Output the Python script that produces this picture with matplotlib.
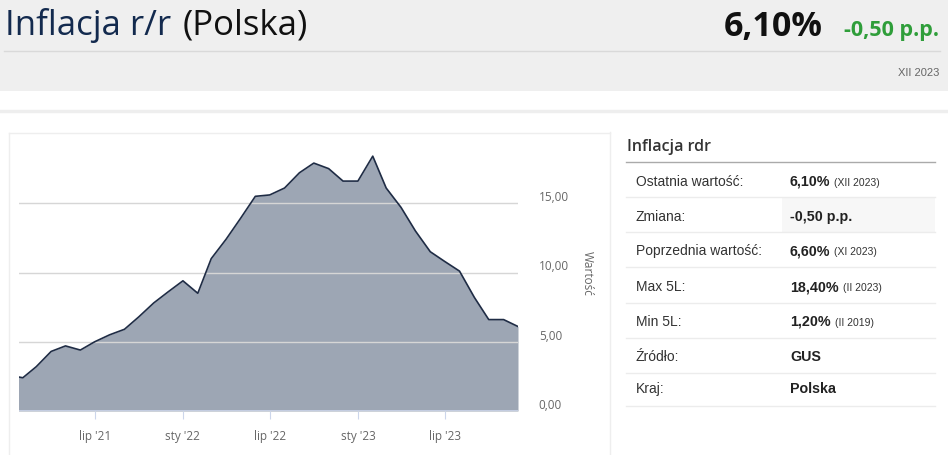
import datetime as dt
import matplotlib
matplotlib.use("Agg")
import matplotlib.pyplot as plt
import matplotlib.dates as mdates
from matplotlib.patches import Rectangle
from matplotlib.lines import Line2D

# monthly CPI y/y, Poland, Jan 2021 - Dec 2023
months = [dt.date(2021 + i // 12, i % 12 + 1, 1) for i in range(36)]
values = [2.6, 2.4, 3.2, 4.3, 4.7, 4.4, 5.0, 5.5, 5.9, 6.8, 7.8, 8.6,
          9.4, 8.5, 11.0, 12.4, 13.9, 15.5, 15.6, 16.1, 17.2, 17.9, 17.5, 16.6,
          16.6, 18.4, 16.1, 14.7, 13.0, 11.5, 10.8, 10.1, 8.2, 6.6, 6.6, 6.1]

tick_dates = [dt.date(2021, 7, 1), dt.date(2022, 1, 1), dt.date(2022, 7, 1),
              dt.date(2023, 1, 1), dt.date(2023, 7, 1)]
tick_labels = ["lip '21", "sty '22", "lip '22", "sty '23", "lip '23"]
y_ticks = [0, 5, 10, 15]

table_labels = ["Ostatnia wartość:", "Zmiana:", "Poprzednia wartość:", "Max 5L:",
                "Min 5L:", "Źródło:", "Kraj:"]
table_values = ["6,10%", "-0,50 p.p.", "6,60%", "18,40%", "1,20%", "GUS", "Polska"]
table_notes = ["(XII 2023)", "", "(XI 2023)", "(II 2023)", "(II 2019)", "", ""]

W, H = 948, 456
fig = plt.figure(figsize=(W / 100, H / 100), dpi=100)
fig.patch.set_facecolor("white")


def fx(x):
    return x / W


def fy(y):
    return 1 - y / H


def hline(x0, x1, y, color, lw=1.0):
    fig.add_artist(Line2D([fx(x0), fx(x1)], [fy(y), fy(y)], color=color, lw=lw,
                          transform=fig.transFigure))


def vline(x, y0, y1, color, lw=1.0):
    fig.add_artist(Line2D([fx(x), fx(x)], [fy(y0), fy(y1)], color=color, lw=lw,
                          transform=fig.transFigure))


# header band
fig.add_artist(Rectangle((0, fy(92)), 1, 92 / H, color="#efefef", lw=0,
                         transform=fig.transFigure))
hline(4, 940, 52, "#d9d9d9")
hline(0, W, 112, "#eeeeee", lw=2.5)

head_font = "Open Sans"
fig.text(fx(5), fy(35), "Inflacja r/r", fontsize=25, color="#132a4e", weight=500,
         family=head_font, va="baseline")
fig.text(fx(183), fy(35), "(Polska)", fontsize=25, color="#111111", weight=500,
         family=head_font, va="baseline")
fig.text(fx(823), fy(36), "6,10%", fontsize=24.5, color="#111111", weight="bold",
         family=head_font, va="baseline", ha="right")
fig.text(fx(939), fy(36), "-0,50 p.p.", fontsize=15.5, color="#2f9e3a", weight="bold",
         family=head_font, va="baseline", ha="right")
fig.text(fx(939), fy(73), "XII 2023", fontsize=8, color="#666666",
         family="Liberation Sans", va="center", ha="right")

# chart panel borders
hline(9, 610, 134, "#eeeeee")
vline(9, 134, H, "#eeeeee")
vline(610, 133, H, "#eeeeee")

# chart
ax = fig.add_axes([fx(19), fy(412), (518 - 19) / W, (412 - 135) / H])
x = mdates.date2num(months)
ax.fill_between(x, values, 0, color="#9da6b4", lw=0, zorder=1)
ax.plot(x, values, color="#1f2c45", lw=1.2, zorder=3)
ax.set_xlim(mdates.date2num(dt.date(2021, 1, 24)), x[-1])
ax.set_ylim(0, 20)
ax.set_yticks(y_ticks)
for t in y_ticks[1:]:
    ax.axhline(t, color="#d6d6d6", lw=1, zorder=2)
ax.axhline(0, color="#ccd6eb", lw=1.2, zorder=4)
ax.set_xticks(mdates.date2num(tick_dates))
ax.set_xticklabels(tick_labels)
ax.tick_params(axis="x", length=6, color="#ccd6eb", labelcolor="#666666",
               labelsize=8.5, pad=7)
ax.tick_params(axis="y", length=0, labelcolor="#666666", labelsize=8.5,
               labelright=True, labelleft=False, pad=15)
ax.set_yticklabels([f"{t:.2f}".replace(".", ",") for t in y_ticks], va="bottom",
                   family="Open Sans")
for lab in ax.get_xticklabels():
    lab.set_family("Open Sans")
for s in ax.spines.values():
    s.set_visible(False)
ax.set_facecolor("none")
fig.text(fx(587), fy(273), "Wartość", rotation=-90, fontsize=8.5, color="#666666",
         family="Open Sans", va="center", ha="center")

# info table
fig.text(fx(627), fy(147), "Inflacja rdr", fontsize=11.5, color="#333333",
         weight="semibold", family="Open Sans", va="center")
hline(626, 935, 163, "#aaaaaa")
fig.add_artist(Rectangle((fx(782), fy(233)), (935 - 782) / W, 35 / H,
                         color="#f7f7f7", lw=0, transform=fig.transFigure))
row_y = [182, 217, 251, 287, 322, 357, 389]
seps = [198, 233, 268, 304, 339, 374, 407]
for s in seps:
    hline(626, 935, s, "#ececec")

renderer = fig.canvas.get_renderer()
for lab, val, note, yy in zip(table_labels, table_values, table_notes, row_y):
    fig.text(fx(636), fy(yy), lab, fontsize=10, color="#333333",
             family="Liberation Sans", va="center")
    t = fig.text(fx(790), fy(yy), val, fontsize=10.3, color="#222222", weight="bold",
                 family="Liberation Sans", va="center")
    if note:
        bb = t.get_window_extent(renderer)
        fig.text((bb.x1 + 4) / W, fy(yy + 1), note, fontsize=7.5, color="#333333",
                 family="Liberation Sans", va="center")

fig.savefig("out.png", dpi=100)
